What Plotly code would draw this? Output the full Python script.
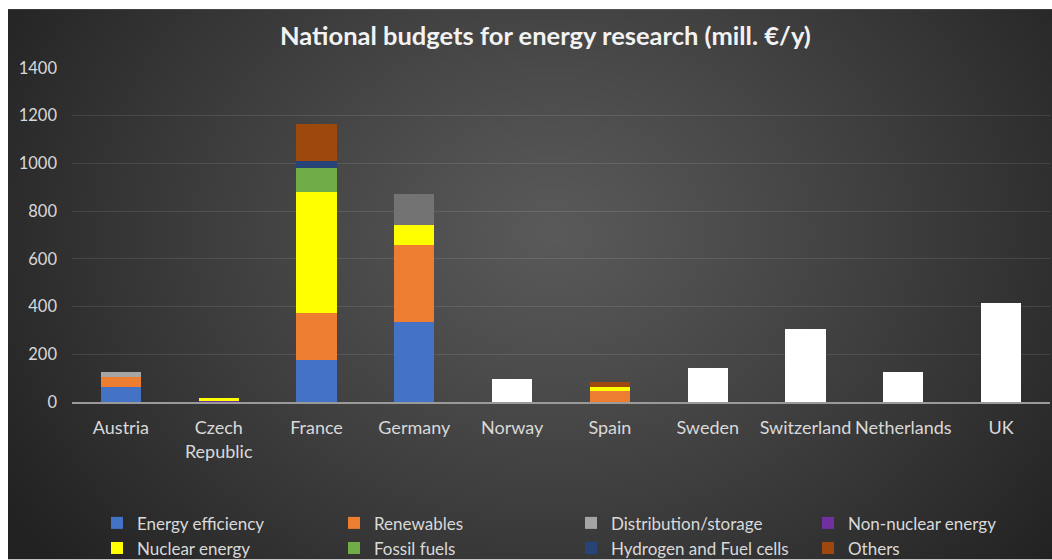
import base64
import struct
import zlib

import numpy as np
import plotly.graph_objects as go

# ---- data (mill. EUR per year) ----
countries = ["Austria", "Czech<br>Republic", "France", "Germany", "Norway",
             "Spain", "Sweden", "Switzerland", "Netherlands", "UK"]

energy_efficiency = [61, 0, 178, 334, 0, 0, 0, 0, 0, 0]
renewables = [42, 0, 197, 326, 0, 47, 0, 0, 0, 0]
non_nuclear = [0, 5, 0, 0, 0, 0, 0, 0, 0, 0]
nuclear = [0, 10, 504, 84, 0, 14, 0, 0, 0, 0]
fossil_fuels = [0, 0, 102, 0, 0, 0, 0, 0, 0, 0]
hydrogen = [0, 0, 30, 0, 0, 0, 0, 0, 0, 0]
distribution = [24, 0, 0, 128, 0, 0, 0, 0, 0, 0]
others = [0, 0, 154, 0, 0, 24, 0, 0, 0, 0]
total_only = [None, None, None, None, 98, None, 141, 306, 126, 413]

y_ticks = [0, 200, 400, 600, 800, 1000, 1200, 1400]

# ---- page geometry ----
W, H = 1052, 560
ML, MR, MT, MB = 72, 2, 68, 157.5
PW, PH = W - ML - MR, H - MT - MB


def px_to_paper_x(px):
    return (px - ML) / PW


def px_to_paper_y(py):
    return (H - MB - py) / PH


# ---- radial gradient backdrop rendered as a small PNG ----
def gradient_png(w, h):
    yy, xx = np.mgrid[0:h, 0:w]
    cx, cy = w * 0.52, h * 0.40
    d = np.sqrt(((xx - cx) / (w * 0.62)) ** 2 + ((yy - cy) / (h * 0.95)) ** 2)
    d = np.clip(d, 0, 1)
    v = 0x5a - (0x5a - 0x22) * d ** 1.1
    v = np.clip(v, 0, 255).astype(np.uint8)
    raw = b"".join(b"\x00" + bytes(np.repeat(row, 3)) for row in v)

    def chunk(tag, data):
        c = struct.pack(">I", len(data)) + tag + data
        return c + struct.pack(">I", zlib.crc32(tag + data) & 0xFFFFFFFF)

    png = b"\x89PNG\r\n\x1a\n"
    png += chunk(b"IHDR", struct.pack(">IIBBBBB", w, h, 8, 2, 0, 0, 0))
    png += chunk(b"IDAT", zlib.compress(raw, 9))
    png += chunk(b"IEND", b"")
    return "data:image/png;base64," + base64.b64encode(png).decode()


bg_x0, bg_y0, bg_x1, bg_y1 = 8, 9, W, H

# Distribution/storage: lighter grey for Austria, darker shade for Germany
distribution_colors = ["#A5A5A5", "#A5A5A5", "#A5A5A5", "#737373", "#A5A5A5",
                       "#A5A5A5", "#A5A5A5", "#A5A5A5", "#A5A5A5", "#A5A5A5"]

series = [
    ("Energy efficiency", energy_efficiency, "#4472C4", "legend", 1),
    ("Renewables", renewables, "#ED7D31", "legend2", 1),
    ("Non-nuclear energy", non_nuclear, "#7030A0", "legend4", 1),
    ("Nuclear energy", nuclear, "#FFFF00", "legend", 2),
    ("Fossil fuels", fossil_fuels, "#70AD47", "legend2", 2),
    ("Hydrogen and Fuel cells", hydrogen, "#264478", "legend3", 2),
    ("Distribution/storage", distribution, distribution_colors, "legend3", 1),
    ("Others", others, "#9E480E", "legend4", 2),
]

fig = go.Figure()
for name, vals, color, leg, rank in series:
    fig.add_trace(go.Bar(
        x=countries, y=vals, name=name, legend=leg, legendrank=rank,
        marker=dict(color=color, line=dict(width=0)),
    ))

fig.add_trace(go.Bar(
    x=countries, y=total_only, name="Total", showlegend=False,
    marker=dict(color="#FFFFFF", line=dict(width=0)),
))

FONT = "Lato, 'Open Sans', sans-serif"
legend_font = dict(family=FONT, size=17, color="#D9D9D9")

legend_common = dict(
    orientation="v", traceorder="normal", bgcolor="rgba(0,0,0,0)",
    font=legend_font, xanchor="left", yanchor="top", xref="paper", yref="paper",
    tracegroupgap=0, itemwidth=30,
)
legend_text_x = [137, 374, 611, 848]
legend_top = 506
legends = {}
for i, key in enumerate(["legend", "legend2", "legend3", "legend4"]):
    legends[key] = dict(
        legend_common,
        x=px_to_paper_x(legend_text_x[i] - 40),
        y=px_to_paper_y(legend_top),
    )

fig.update_layout(
    width=W, height=H,
    margin=dict(l=ML, r=MR, t=MT, b=MB, autoexpand=False),
    paper_bgcolor="#FFFFFF",
    plot_bgcolor="rgba(0,0,0,0)",
    barmode="stack",
    bargap=0.59,
    showlegend=True,
    **legends,
    images=[dict(
        source=gradient_png(261, 138),
        xref="paper", yref="paper",
        x=px_to_paper_x(bg_x0), y=px_to_paper_y(bg_y0),
        sizex=(bg_x1 - bg_x0) / PW, sizey=(bg_y1 - bg_y0) / PH,
        xanchor="left", yanchor="top", sizing="stretch", layer="below",
    )],
    annotations=[dict(
        text="<b>National budgets for energy research (mill. €/y)</b>",
        xref="paper", yref="paper",
        x=px_to_paper_x(545), y=px_to_paper_y(35),
        xanchor="center", yanchor="middle", showarrow=False,
        font=dict(family=FONT, size=25.5, color="#F2F2F2"),
    )],
)

fig.update_xaxes(
    showgrid=False, showline=True, linecolor="#9A9A9A", linewidth=1.5,
    ticks="", tickfont=dict(family=FONT, size=18, color="#D9D9D9"),
    ticklabelstandoff=9,
)
fig.update_yaxes(
    range=[0, 1400], tickvals=y_ticks, showgrid=True,
    gridcolor="rgba(255,255,255,0.10)", gridwidth=1,
    zeroline=False, showline=False, ticks="",
    tickfont=dict(family=FONT, size=16.5, color="#D9D9D9"),
    ticklabelstandoff=14,
)

fig.write_html("out.html")
